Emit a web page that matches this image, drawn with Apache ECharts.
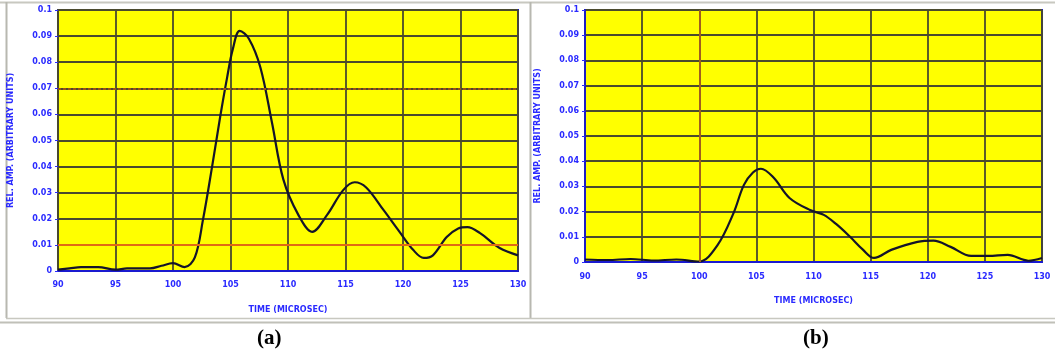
<!DOCTYPE html>
<html>
<head>
<meta charset="utf-8">
<script src="https://cdn.jsdelivr.net/npm/echarts@6/dist/echarts.min.js"></script>
<style>
  html, body { margin: 0; padding: 0; background: #ffffff; }
  #chart { width: 1055px; height: 358px; }
</style>
</head>
<body>
<div id="chart"></div>
<script>
// Time axis ticks (microseconds) and amplitude ticks
const timeTicks = [90, 95, 100, 105, 110, 115, 120, 125, 130];
const ampTicks = [0, 0.01, 0.02, 0.03, 0.04, 0.05, 0.06, 0.07, 0.08, 0.09, 0.1];

// Panel (a): received waveform envelope
const timeA = [90, 91, 92, 93.5, 95, 96, 98, 99, 100, 101, 101.9, 102.6, 103.4, 104.1, 104.7, 105.2, 105.8, 106.6, 107.6, 108.6, 109.6, 110.9, 112.1, 113.4, 114.8, 115.8, 116.8, 118.3, 119.7, 120.9, 121.8, 122.6, 123.8, 124.8, 125.6, 126.7, 128.4, 130];
const ampA  = [0.0005, 0.001, 0.0015, 0.0015, 0.0005, 0.001, 0.001, 0.002, 0.003, 0.0015, 0.0052, 0.0195, 0.040, 0.059, 0.074, 0.085, 0.092, 0.089, 0.078, 0.057, 0.035, 0.0215, 0.015, 0.0215, 0.031, 0.034, 0.032, 0.0234, 0.015, 0.008, 0.005, 0.006, 0.013, 0.0163, 0.0168, 0.0145, 0.0088, 0.006];

// Panel (b): received waveform envelope
const timeB = [90, 92, 94, 96, 98, 100, 101.6, 103, 103.9, 104.7, 105.4, 106.5, 107.9, 109.7, 110.9, 112, 113.2, 114.3, 115.3, 116.8, 119.1, 120.5, 122, 123.8, 125.3, 127, 128.8, 130];
const ampB  = [0.001, 0.0008, 0.0012, 0.0006, 0.001, 0.0002, 0.0067, 0.0194, 0.0305, 0.0355, 0.037, 0.0335, 0.0254, 0.0206, 0.0187, 0.015, 0.010, 0.005, 0.0016, 0.0048, 0.008, 0.0085, 0.006, 0.0024, 0.0024, 0.0028, 0.0005, 0.0016];

// Reference levels drawn on panel (a)
const levelsA = [0.07, 0.01];

const pairs = (xs, ys) => xs.map((x, i) => [x, ys[i]]);

const blue = '#2a2aff';
const gridColor = '#4a4a2e';
const labelFont = { color: blue, fontSize: 8, fontWeight: 'bold', fontFamily: 'DejaVu Sans' };
const yFmt = v => (v === 0 ? '0' : String(+v.toFixed(2)));

function xAxisFor(gridIndex, margin) {
  return {
    type: 'value', gridIndex, min: 90, max: 130, interval: 5,
    name: 'TIME (MICROSEC)', nameLocation: 'middle', nameGap: 35,
    nameTextStyle: { color: blue, fontSize: 8, fontWeight: 'bold', fontFamily: 'DejaVu Sans' },
    axisLine: { show: true, onZero: false, lineStyle: { color: '#1a1ad0', width: 2 } },
    axisTick: { show: false },
    axisLabel: Object.assign({ margin }, labelFont),
    splitLine: { show: true, lineStyle: { color: gridColor, width: 1.8 } }
  };
}

function yAxisFor(gridIndex, leftLineColor) {
  return {
    type: 'value', gridIndex, min: 0, max: 0.1, interval: 0.01,
    name: 'REL. AMP. (ARBITRARY UNITS)', nameLocation: 'middle', nameGap: 43, nameRotate: 90,
    nameTextStyle: { color: blue, fontSize: 8, fontWeight: 'bold', fontFamily: 'DejaVu Sans' },
    axisLine: { show: true, lineStyle: { color: leftLineColor, width: 1.8 } },
    axisTick: { show: true, length: 3, lineStyle: { color: blue } },
    axisLabel: Object.assign({ margin: 6, formatter: yFmt }, labelFont),
    splitLine: { show: true, lineStyle: { color: gridColor, width: 1.8 } }
  };
}

const chart = echarts.init(document.getElementById('chart'), null, { renderer: 'canvas' });

chart.setOption({
  animation: false,
  backgroundColor: '#ffffff',
  grid: [
    { left: 58, top: 10, width: 460, height: 261, show: true, backgroundColor: '#ffff00', borderColor: '#1a1ad0', borderWidth: 2 },
    { left: 585, top: 10, width: 457, height: 252, show: true, backgroundColor: '#ffff00', borderColor: '#1a1ad0', borderWidth: 2 }
  ],
  xAxis: [xAxisFor(0, 10), xAxisFor(1, 11)],
  yAxis: [yAxisFor(0, gridColor), yAxisFor(1, '#1a1ad0')],
  series: [
    {
      type: 'line', xAxisIndex: 0, yAxisIndex: 0,
      data: pairs(timeA, ampA),
      smooth: 0.35, showSymbol: false,
      lineStyle: { color: '#14142a', width: 2.2 },
      markLine: {
        silent: true, symbol: 'none', label: { show: false },
        data: [
          { yAxis: levelsA[0], lineStyle: { color: '#9a5212', width: 1.8, type: [3, 2] } },
          { yAxis: levelsA[1], lineStyle: { color: '#e06a14', width: 2, type: 'solid' } }
        ]
      }
    },
    {
      type: 'line', xAxisIndex: 1, yAxisIndex: 1,
      data: pairs(timeB, ampB),
      smooth: 0.35, showSymbol: false,
      lineStyle: { color: '#14142a', width: 2.2 },
      markLine: {
        silent: true, symbol: 'none', label: { show: false },
        data: [
          { xAxis: 100, lineStyle: { color: '#a8601e', width: 1.8, type: 'solid' } }
        ]
      }
    }
  ],
  graphic: [
    // panel frames
    { type: 'line', z: -1, shape: { x1: 0, y1: 2.5, x2: 1055, y2: 2.5 }, style: { stroke: '#c8c8c0', lineWidth: 2 } },
    { type: 'line', z: -1, shape: { x1: 6.5, y1: 2, x2: 6.5, y2: 318 }, style: { stroke: '#b8b8b0', lineWidth: 2 } },
    { type: 'line', z: -1, shape: { x1: 530.5, y1: 2, x2: 530.5, y2: 318 }, style: { stroke: '#b8b8b0', lineWidth: 2 } },
    { type: 'line', z: -1, shape: { x1: 6, y1: 318.5, x2: 1055, y2: 318.5 }, style: { stroke: '#c8c8c0', lineWidth: 1.5 } },
    { type: 'line', z: -1, shape: { x1: 0, y1: 322.5, x2: 1055, y2: 322.5 }, style: { stroke: '#c0c0b8', lineWidth: 2 } },
    // panel captions
    { type: 'text', left: 257, top: 328, style: { text: '(a)', font: 'bold 21px "Liberation Serif"', fill: '#000000' } },
    { type: 'text', left: 803, top: 328, style: { text: '(b)', font: 'bold 21px "Liberation Serif"', fill: '#000000' } }
  ]
});
</script>
</body>
</html>
